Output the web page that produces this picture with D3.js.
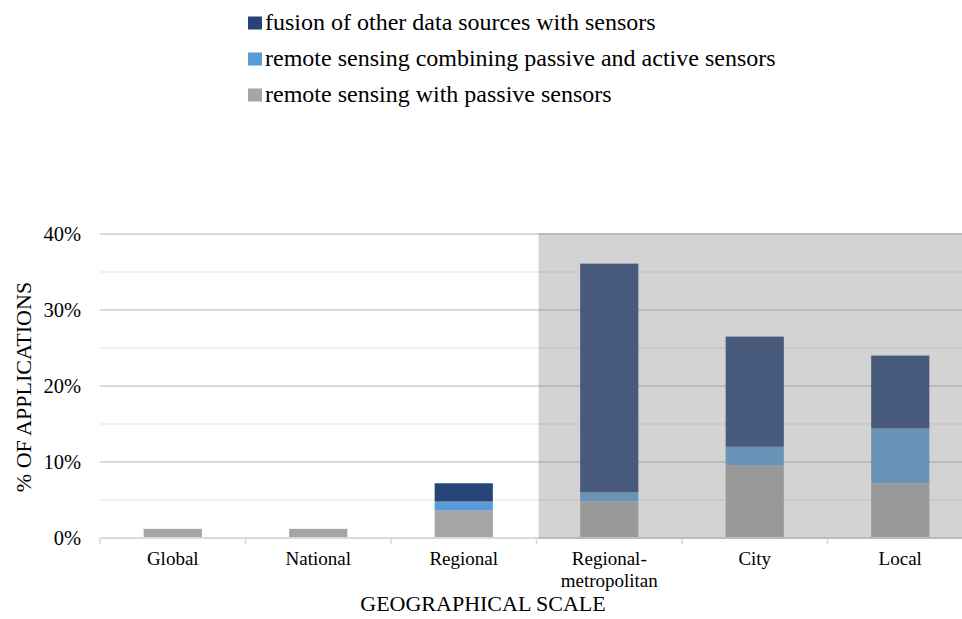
<!DOCTYPE html>
<html>
<head>
<meta charset="utf-8">
<script src="https://cdn.jsdelivr.net/npm/d3@7"></script>
<style>
  html, body { margin: 0; padding: 0; background: #fff; }
  svg { display: block; font-family: "Liberation Serif", "Times New Roman", serif; }
</style>
</head>
<body>
<svg id="chart" width="962" height="619"></svg>
<script>
// Share of applications (%) by geographical scale, split by data source type
const categories = ["Global", "National", "Regional", "Regional-\nmetropolitan", "City", "Local"];
const passive = [1.2, 1.2, 3.6, 4.8, 9.6, 7.2];
const passiveActive = [0, 0, 1.2, 1.2, 2.4, 7.2];
const fusion = [0, 0, 2.4, 30.1, 14.5, 9.6];
const seriesNames = [
  "fusion of other data sources with sensors",
  "remote sensing combining passive and active sensors",
  "remote sensing with passive sensors"
];
const yTicks = [0, 10, 20, 30, 40];
const yMinor = [5, 15, 25, 35];

const colors = { passive: "#A5A5A5", passiveActive: "#5B9BD5", fusion: "#264478" };

const svg = d3.select("#chart");
const W = 962, H = 619;
const mLeft = 100, mRight = 973, mTop = 234, mBottom = 538;

const x = d3.scaleBand().domain(categories).range([mLeft, mRight]).paddingInner(0.6).paddingOuter(0.3);
const xOuter = d3.scaleBand().domain(categories).range([mLeft, mRight]);
const y = d3.scaleLinear().domain([0, 40]).range([mBottom, mTop]);

const rows = categories.map((c, i) => ({
  cat: c, passive: passive[i], passiveActive: passiveActive[i], fusion: fusion[i]
}));
const stack = d3.stack().keys(["passive", "passiveActive", "fusion"]);
const layers = stack(rows);

const plot = svg.append("g");

// gridlines
plot.selectAll("line.minor").data(yMinor).join("line")
  .attr("x1", mLeft).attr("x2", W).attr("y1", d => y(d)).attr("y2", d => y(d))
  .attr("stroke", "#F0F0F0").attr("stroke-width", 2);
plot.selectAll("line.major").data(yTicks.filter(d => d > 0)).join("line")
  .attr("x1", mLeft).attr("x2", W).attr("y1", d => y(d)).attr("y2", d => y(d))
  .attr("stroke", "#D9D9D9").attr("stroke-width", 2);

// bars
layers.forEach(layer => {
  plot.append("g").selectAll("rect").data(layer).join("rect")
    .attr("x", d => x(d.data.cat))
    .attr("width", x.bandwidth())
    .attr("y", d => y(d[1]))
    .attr("height", d => Math.max(0, y(d[0]) - y(d[1])))
    .attr("fill", colors[layer.key]);
});

// category axis
const xAxis = d3.axisBottom(xOuter).tickSize(0).tickFormat("");
const axisG = plot.append("g").attr("transform", `translate(0,${y(0)})`).call(xAxis);
axisG.select(".domain").attr("stroke", "#D9D9D9").attr("stroke-width", 2).attr("d", `M${mLeft},0H${W}`);
const bounds = categories.map(c => xOuter(c)).concat([mRight]).filter(v => v <= W);
plot.selectAll("line.tick").data(bounds).join("line")
  .attr("x1", d => d).attr("x2", d => d)
  .attr("y1", y(0)).attr("y2", y(0) + 6)
  .attr("stroke", "#D9D9D9").attr("stroke-width", 1.5);

// shaded urban scales
plot.append("rect")
  .attr("x", xOuter("Regional-\nmetropolitan") + 2)
  .attr("y", y(40) - 1)
  .attr("width", W - xOuter("Regional-\nmetropolitan") - 2)
  .attr("height", y(0) - y(40) + 2)
  .attr("fill", "rgb(134,134,134)")
  .attr("opacity", 0.36);

// category labels
categories.forEach(c => {
  const lines = c.split("\n");
  const t = svg.append("text")
    .attr("x", xOuter(c) + xOuter.bandwidth() / 2)
    .attr("y", 565)
    .attr("text-anchor", "middle")
    .attr("font-size", 19)
    .attr("fill", "#000");
  lines.forEach((l, k) => t.append("tspan")
    .attr("x", xOuter(c) + xOuter.bandwidth() / 2)
    .attr("dy", k === 0 ? 0 : 22)
    .text(l));
});

// y tick labels
svg.selectAll("text.ytick").data(yTicks).join("text")
  .attr("x", 81).attr("y", d => y(d) + 7)
  .attr("text-anchor", "end")
  .attr("font-size", 20.5)
  .attr("fill", "#000")
  .text(d => d + "%");

// axis titles
svg.append("text")
  .attr("transform", `translate(31,387) rotate(-90)`)
  .attr("text-anchor", "middle")
  .attr("font-size", 22)
  .attr("fill", "#000")
  .text("% OF APPLICATIONS");
svg.append("text")
  .attr("x", 483).attr("y", 611)
  .attr("text-anchor", "middle")
  .attr("font-size", 22)
  .attr("fill", "#000")
  .text("GEOGRAPHICAL SCALE");

// legend
const legendColors = [colors.fusion, colors.passiveActive, colors.passive];
const lg = svg.append("g");
seriesNames.forEach((name, i) => {
  const base = 30 + i * 36;
  lg.append("rect").attr("x", 248).attr("y", base - 13.5).attr("width", 14).attr("height", 13)
    .attr("fill", legendColors[i]);
  lg.append("text").attr("x", 265).attr("y", base)
    .attr("font-size", 24).attr("fill", "#000").text(name);
});
</script>
</body>
</html>
